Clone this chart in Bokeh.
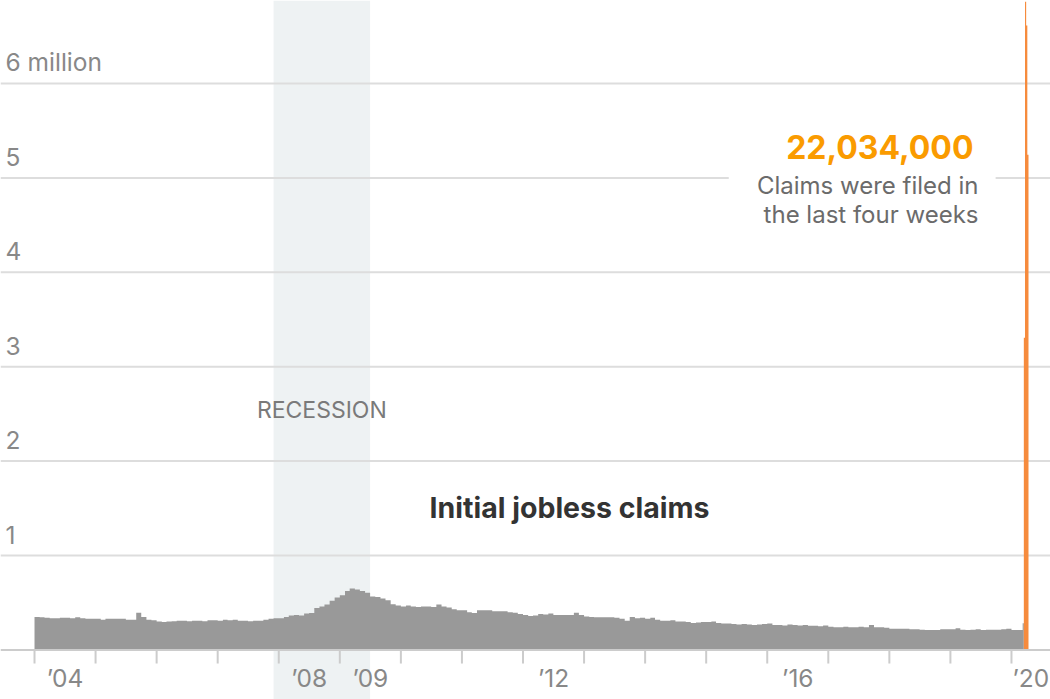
import pandas as pd
from bokeh.plotting import figure
from bokeh.models import Range1d
from bokeh.core.properties import value
from bokeh.embed import file_html
from bokeh.resources import INLINE

# ---------------- data (initial jobless claims, thousands, monthly levels) -------------
claims_2004 = [350, 345, 340, 335, 335, 340, 340, 335, 345, 335, 330, 330]
claims_2005 = [330, 320, 330, 330, 330, 330, 320, 320, 395, 350, 320, 315]
claims_2006 = [300, 295, 300, 305, 310, 310, 305, 310, 310, 305, 315, 315]
claims_2007 = [310, 320, 315, 320, 310, 310, 305, 310, 310, 320, 330, 335]
claims_2008 = [335, 350, 365, 370, 365, 385, 390, 445, 460, 480, 520, 555]
claims_2009 = [580, 625, 650, 640, 625, 605, 565, 560, 545, 525, 485, 470]
claims_2010 = [460, 470, 460, 455, 460, 460, 455, 480, 460, 450, 430, 420]
claims_2011 = [420, 400, 390, 420, 420, 420, 410, 410, 410, 400, 395, 380]
claims_2012 = [370, 360, 365, 380, 375, 385, 370, 370, 370, 370, 395, 370]
claims_2013 = [355, 350, 345, 345, 345, 345, 340, 330, 310, 350, 335, 340]
claims_2014 = [330, 340, 320, 310, 310, 315, 300, 300, 295, 285, 290, 295]
claims_2015 = [295, 300, 285, 280, 280, 275, 270, 275, 270, 265, 270, 275]
claims_2016 = [280, 265, 265, 260, 270, 265, 260, 265, 255, 255, 250, 260]
claims_2017 = [245, 240, 240, 245, 240, 240, 245, 240, 265, 240, 240, 235]
claims_2018 = [225, 225, 225, 225, 220, 220, 215, 210, 210, 210, 220, 220]
claims_2019 = [220, 230, 215, 210, 215, 220, 210, 215, 215, 215, 220, 225]
claims_2020 = [210, 212]

march_week_ends = ["2020-03-07", "2020-03-14"]
march_claims = [211, 282]

recent_week_ends = ["2020-03-21", "2020-03-28", "2020-04-04", "2020-04-11"]
recent_claims = [3307, 6867, 6615, 5245]

recession = ["2007-12-01", "2009-07-01"]

grid_values = [1, 2, 3, 4, 5, 6]
grid_labels = ["1", "2", "3", "4", "5", "6 million"]

tick_years = list(range(2004, 2021))
label_years = [2004, 2008, 2009, 2012, 2016, 2020]
label_texts = ["\u201904", "\u201908", "\u201909", "\u201912", "\u201916", "\u201920"]

# ---------------- helpers -----------------------------------------------------------
def dec_year(ts):
    ts = pd.Timestamp(ts)
    start = pd.Timestamp(year=ts.year, month=1, day=1)
    end = pd.Timestamp(year=ts.year + 1, month=1, day=1)
    return ts.year + (ts - start) / (end - start)

monthly = (claims_2004 + claims_2005 + claims_2006 + claims_2007 + claims_2008 +
           claims_2009 + claims_2010 + claims_2011 + claims_2012 + claims_2013 +
           claims_2014 + claims_2015 + claims_2016 + claims_2017 + claims_2018 +
           claims_2019 + claims_2020)
month_starts = pd.date_range("2004-01-01", periods=len(monthly), freq="MS")

gx = [dec_year(d) for d in month_starts]
gy = [v / 1000 for v in monthly]
for we, v in zip(march_week_ends, march_claims):
    gx.append(dec_year(pd.Timestamp(we) - pd.Timedelta(days=6)))
    gy.append(v / 1000)
gx.append(dec_year(pd.Timestamp(march_week_ends[-1]) + pd.Timedelta(days=1)))
gy.append(gy[-1])

ox, oy = [], []
for we, v in zip(recent_week_ends, recent_claims):
    ox.append(dec_year(pd.Timestamp(we) - pd.Timedelta(days=6)))
    oy.append(v / 1000)
ox.append(dec_year(pd.Timestamp(recent_week_ends[-1]) + pd.Timedelta(days=1)))
oy.append(oy[-1])

total = sum(recent_claims) * 1000

# ---------------- figure ---------------------------------------------------------------
X0, X1 = 2003.443, 2020.639
Y0, Y1 = -0.525, 6.879
W, H = 1050, 699

p = figure(width=W, height=H, x_range=Range1d(X0, X1), y_range=Range1d(Y0, Y1),
           output_backend="svg", toolbar_location=None, min_border=0)
p.outline_line_color = None
p.axis.visible = False
p.grid.visible = False
p.background_fill_color = "white"
p.border_fill_color = "white"

# recession band
rs, re_ = dec_year(recession[0]), dec_year(recession[1])
p.quad(left=[rs], right=[re_], bottom=[Y0], top=[Y1], fill_color="#eef2f3", line_color=None)

# gridlines
p.segment(x0=[X0] * len(grid_values), x1=[X1] * len(grid_values), y0=grid_values, y1=grid_values,
          line_color="#dddddd", line_width=2)

# white box behind the annotation
p.quad(left=[2015.37], right=[2019.74], bottom=[4.45], top=[5.55], fill_color="white", line_color=None)

# gray area (weekly claims)
p.varea_step(x=gx, y1=[0] * len(gx), y2=gy, step_mode="after", fill_color="#999999")
# orange recent weeks
p.varea_step(x=ox, y1=[0] * len(ox), y2=oy, step_mode="after", fill_color="#f68b3d")

# baseline and ticks
p.segment(x0=[X0], x1=[X1], y0=[0], y1=[0], line_color="#cccccc", line_width=2)
p.segment(x0=tick_years, x1=tick_years, y0=[0] * len(tick_years), y1=[-0.144] * len(tick_years),
          line_color="#cccccc", line_width=2)

# tick labels
lx = [y + 0.5 if y != 2020 else y for y in label_years]
la = ["center" if y != 2020 else "left" for y in label_years]
p.text(x=lx, y=[-0.398] * len(lx), text=label_texts, text_align=la, x_offset=[0] * 5 + [1],
       y_offset=-10, text_baseline="alphabetic", text_font=value("Inter"),
       text_font_size="24.5px", text_color="#888888")

# y labels
p.text(x=[X0] * len(grid_values), y=grid_values, text=grid_labels, x_offset=5, y_offset=-21,
       text_align="left", text_baseline="alphabetic", text_font=value("Inter"),
       text_font_size="24.5px", text_color="#888888")

# annotations
p.text(x=[(rs + re_) / 2], y=[2.465], text=["RECESSION"], text_align="center", y_offset=-7,
       text_baseline="alphabetic", text_font=value("Inter"), text_font_size="23px", text_color="#7a7a7a")
p.text(x=[2012.762], y=[1.392], text=["Initial jobless claims"], text_align="center", y_offset=-11,
       text_baseline="alphabetic", text_font=value("Inter"), text_font_style="bold",
       text_font_size="28.5px", text_color="#333333")
p.text(x=[2019.378], y=[5.205], text=[f"{total:,}"], text_align="right", y_offset=-12,
       text_baseline="alphabetic", text_font=value("Inter"), text_font_style="bold",
       text_font_size="32px", text_color="#fa9b00")
p.text(x=[2019.46, 2019.46], y=[4.832, 4.532], text=["Claims were filed in", "the last four weeks"],
       text_align="right", y_offset=-8, text_baseline="alphabetic", text_font=value("Inter"),
       text_font_size="24px", text_color="#6b6b6b")

open("out.html", "w").write(file_html(p, INLINE))
